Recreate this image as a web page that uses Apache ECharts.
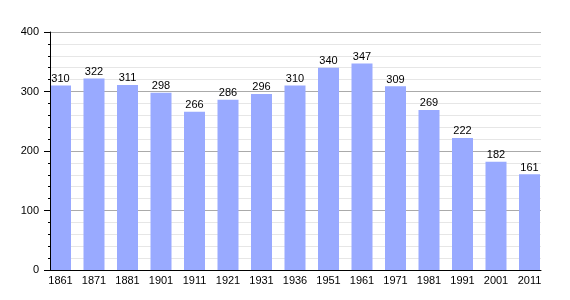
<!DOCTYPE html>
<html><head><meta charset="utf-8">
<script src="https://cdn.jsdelivr.net/npm/echarts@6/dist/echarts.min.js"></script>
<style>html,body{margin:0;padding:0;background:#fff}#c{width:570px;height:300px}</style>
</head><body><div id="c"></div>
<script>
const categories = ['1861','1871','1881','1901','1911','1921','1931','1936','1951','1961','1971','1981','1991','2001','2011'];
const population = [310,322,311,298,266,286,296,310,340,347,309,269,222,182,161];
const yTicks = [0,100,200,300,400];

const font = 'Liberation Sans, Arial, sans-serif';
const yMax = yTicks[yTicks.length-1];
const chart = echarts.init(document.getElementById('c'), null, {renderer:'canvas'});
chart.setOption({
  animation:false,
  grid:[
    {left:50, right:29, top:32, bottom:30},
    {left:43.75, right:23.75, top:32, bottom:30}
  ],
  xAxis:[
    {type:'category', gridIndex:0, data:categories, boundaryGap:true, z:10,
     axisLine:{show:true, lineStyle:{color:'#000', width:1}}, axisTick:{show:false}, axisLabel:{show:false}, splitLine:{show:false}},
    {type:'category', gridIndex:1, data:categories,
     axisLine:{show:false}, axisTick:{show:false},
     axisLabel:{color:'#000', fontSize:11, fontFamily:font, margin:5}, splitLine:{show:false}}
  ],
  yAxis:[
    {type:'value', gridIndex:0, min:0, max:yMax, interval:100, z:0,
     axisLine:{show:false}, axisTick:{show:false}, axisLabel:{show:false},
     minorTick:{show:false, splitNumber:5},
     splitLine:{show:true, lineStyle:{color:'#aaaaaa', width:1}},
     minorSplitLine:{show:true, lineStyle:{color:'#e6e6e6', width:1}}},
    {type:'value', gridIndex:1, min:0, max:yMax, interval:100, show:false, splitLine:{show:false}},
    {type:'value', gridIndex:0, min:0, max:yMax, interval:100, z:10, position:'left',
     axisLine:{show:true, lineStyle:{color:'#000'}},
     axisTick:{show:true, length:6, lineStyle:{color:'#000'}},
     minorTick:{show:true, splitNumber:5, length:2, lineStyle:{color:'#000'}},
     axisLabel:{color:'#000', fontSize:11, fontFamily:font, margin:11},
     splitLine:{show:false}, minorSplitLine:{show:false}}
  ],
  series:[{
    type:'bar', xAxisIndex:1, yAxisIndex:1, data:population, barWidth:21, z:2,
    itemStyle:{color:'#99aaff'},
    label:{show:true, position:'top', distance:1, color:'#000', fontSize:11, fontFamily:font}
  }]
});
</script></body></html>
